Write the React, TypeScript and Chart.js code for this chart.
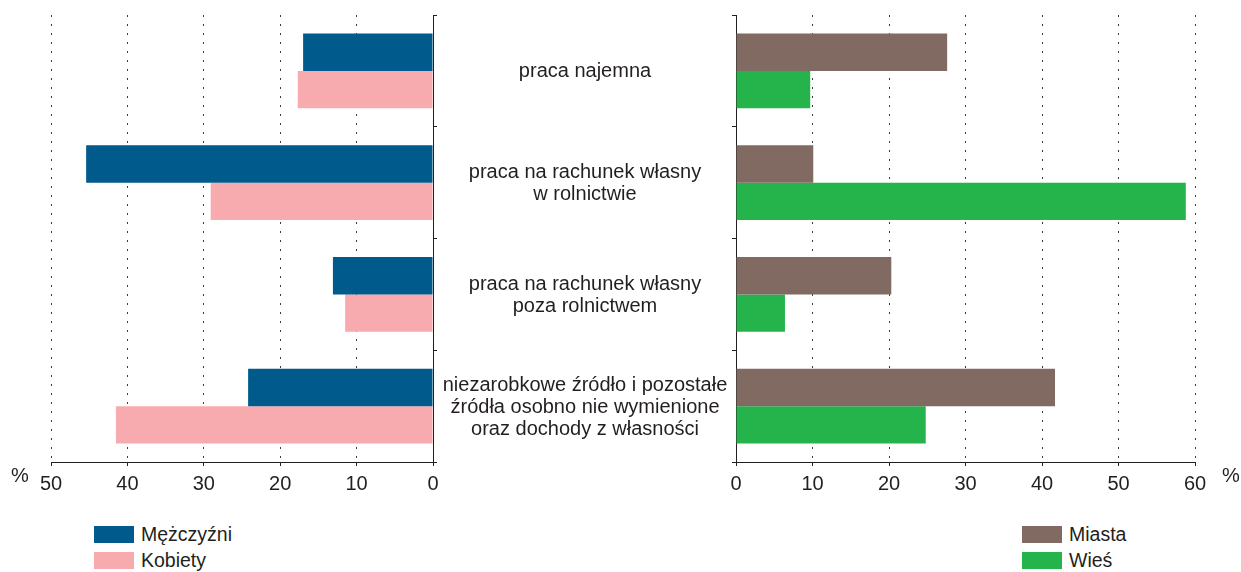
import React, { useEffect, useRef } from "react";
import { Chart, registerables } from "chart.js";

Chart.register(...registerables);

// ---- data ----
const categories: string[][] = [
  ["praca najemna"],
  ["praca na rachunek własny", "w rolnictwie"],
  ["praca na rachunek własny", "poza rolnictwem"],
  ["niezarobkowe źródło i pozostałe", "źródła osobno nie wymienione", "oraz dochody z własności"],
];
const menLabel = "Mężczyźni";
const womenLabel = "Kobiety";
const urbanLabel = "Miasta";
const ruralLabel = "Wieś";
const men = [17.0, 45.4, 13.1, 24.2];
const women = [17.7, 29.1, 11.5, 41.5];
const urban = [27.6, 10.1, 20.3, 41.7];
const rural = [9.7, 58.8, 6.4, 24.8];
const leftMax = 50;
const rightMax = 60;
const tickStep = 10;
const unitLabel = "%";

// ---- styles ----
const FONT = "'Liberation Sans', Arial, Helvetica, sans-serif";
const TEXT = "#231f20";
const GRID = "#3a3a3a";
const C_MEN = "#005a8c";
const C_WOMEN = "#f7abae";
const C_URBAN = "#806a62";
const C_RURAL = "#25b34c";

const H = 500;

function xScale(max: number, reverse: boolean) {
  return {
    type: "linear" as const,
    min: 0,
    max,
    reverse,
    ticks: {
      stepSize: tickStep,
      color: TEXT,
      font: { family: FONT, size: 20 },
      padding: 6,
      maxRotation: 0,
      autoSkip: false,
    },
    grid: {
      color: (ctx: any) => (ctx.tick && ctx.tick.value === 0 ? "rgba(0,0,0,0)" : GRID),
      lineWidth: 1,
      tickLength: 4,
      tickColor: TEXT,
      drawOnChartArea: true,
    },
    border: { display: true, color: TEXT, width: 1, dash: [2, 7] },
    afterFit: (s: any) => {
      s.height = 38;
    },
  };
}

function yScale(position: "left" | "right", width: number) {
  return {
    type: "category" as const,
    position,
    offset: true,
    ticks: { display: false },
    grid: {
      offset: true,
      drawOnChartArea: false,
      drawTicks: true,
      tickLength: 4,
      tickColor: TEXT,
      color: TEXT,
    },
    border: { display: true, color: TEXT, width: 1 },
    afterFit: (s: any) => {
      s.width = width;
    },
  };
}

const leftPercent = {
  id: "leftPercent",
  afterDraw(chart: any) {
    const ctx = chart.ctx;
    ctx.save();
    ctx.fillStyle = TEXT;
    ctx.font = `20px ${FONT}`;
    ctx.textAlign = "center";
    ctx.textBaseline = "middle";
    ctx.fillText(unitLabel, 20, 476);
    ctx.restore();
  },
};

const rightDecor = {
  id: "rightDecor",
  afterDraw(chart: any) {
    const ctx = chart.ctx;
    const y = chart.scales.y;
    ctx.save();
    ctx.fillStyle = TEXT;
    ctx.font = `20px ${FONT}`;
    ctx.textAlign = "center";
    ctx.textBaseline = "middle";
    ctx.fillText(unitLabel, chart.chartArea.right + 36, 476);
    const cx = chart.chartArea.left - 151;
    const lh = 22;
    categories.forEach((lines, i) => {
      const cy = y.getPixelForValue(i) + 1;
      const start = cy - ((lines.length - 1) * lh) / 2;
      lines.forEach((t, j) => ctx.fillText(t, cx, start + j * lh));
    });
    ctx.restore();
  },
};

function useChart(ref: React.RefObject<HTMLCanvasElement>, make: (c: HTMLCanvasElement) => Chart) {
  useEffect(() => {
    if (!ref.current) return;
    const ch = make(ref.current);
    return () => ch.destroy();
  }, []);
}

const labelsText = categories.map((c) => c.join(" "));

export default function App() {
  const leftRef = useRef<HTMLCanvasElement>(null);
  const rightRef = useRef<HTMLCanvasElement>(null);

  useChart(leftRef, (c) =>
    new Chart(c, {
      type: "bar",
      data: {
        labels: labelsText,
        datasets: [
          { label: menLabel, data: men, backgroundColor: C_MEN, borderWidth: 0 },
          { label: womenLabel, data: women, backgroundColor: C_WOMEN, borderWidth: 0 },
        ],
      },
      options: {
        indexAxis: "y",
        animation: false,
        responsive: true,
        maintainAspectRatio: false,
        layout: { padding: { left: 51, top: 15, right: 0, bottom: 0 } },
        datasets: { bar: { barPercentage: 1, categoryPercentage: 0.67 } },
        plugins: { legend: { display: false }, tooltip: { enabled: false } },
        scales: { x: xScale(leftMax, true), y: yScale("right", 17) },
      },
      plugins: [leftPercent],
    } as any)
  );

  useChart(rightRef, (c) =>
    new Chart(c, {
      type: "bar",
      data: {
        labels: labelsText,
        datasets: [
          { label: urbanLabel, data: urban, backgroundColor: C_URBAN, borderWidth: 0 },
          { label: ruralLabel, data: rural, backgroundColor: C_RURAL, borderWidth: 0 },
        ],
      },
      options: {
        indexAxis: "y",
        animation: false,
        responsive: true,
        maintainAspectRatio: false,
        layout: { padding: { left: 0, top: 15, right: 46, bottom: 0 } },
        datasets: { bar: { barPercentage: 1, categoryPercentage: 0.67 } },
        plugins: { legend: { display: false }, tooltip: { enabled: false } },
        scales: { x: xScale(rightMax, false), y: yScale("left", 296) },
      },
      plugins: [rightDecor],
    } as any)
  );

  const legendItem = (label: string, color: string) => (
    <div key={label} style={{ display: "flex", alignItems: "center", height: 26 }}>
      <div style={{ width: 40, height: 17, background: color, marginRight: 7 }} />
      <span style={{ font: `19.5px ${FONT}`, color: TEXT, lineHeight: "20px" }}>{label}</span>
    </div>
  );

  return (
    <div style={{ position: "absolute", left: 0, top: 0, width: 1241, height: 572, background: "#fff", overflow: "hidden" }}>
      <div style={{ position: "absolute", left: 0, top: 0, width: 450, height: H }}>
        <canvas ref={leftRef} />
      </div>
      <div style={{ position: "absolute", left: 440, top: 0, width: 801, height: H }}>
        <canvas ref={rightRef} />
      </div>
      <div style={{ position: "absolute", left: 94, top: 521 }}>
        {legendItem(menLabel, C_MEN)}
        {legendItem(womenLabel, C_WOMEN)}
      </div>
      <div style={{ position: "absolute", left: 1022, top: 521 }}>
        {legendItem(urbanLabel, C_URBAN)}
        {legendItem(ruralLabel, C_RURAL)}
      </div>
    </div>
  );
}
